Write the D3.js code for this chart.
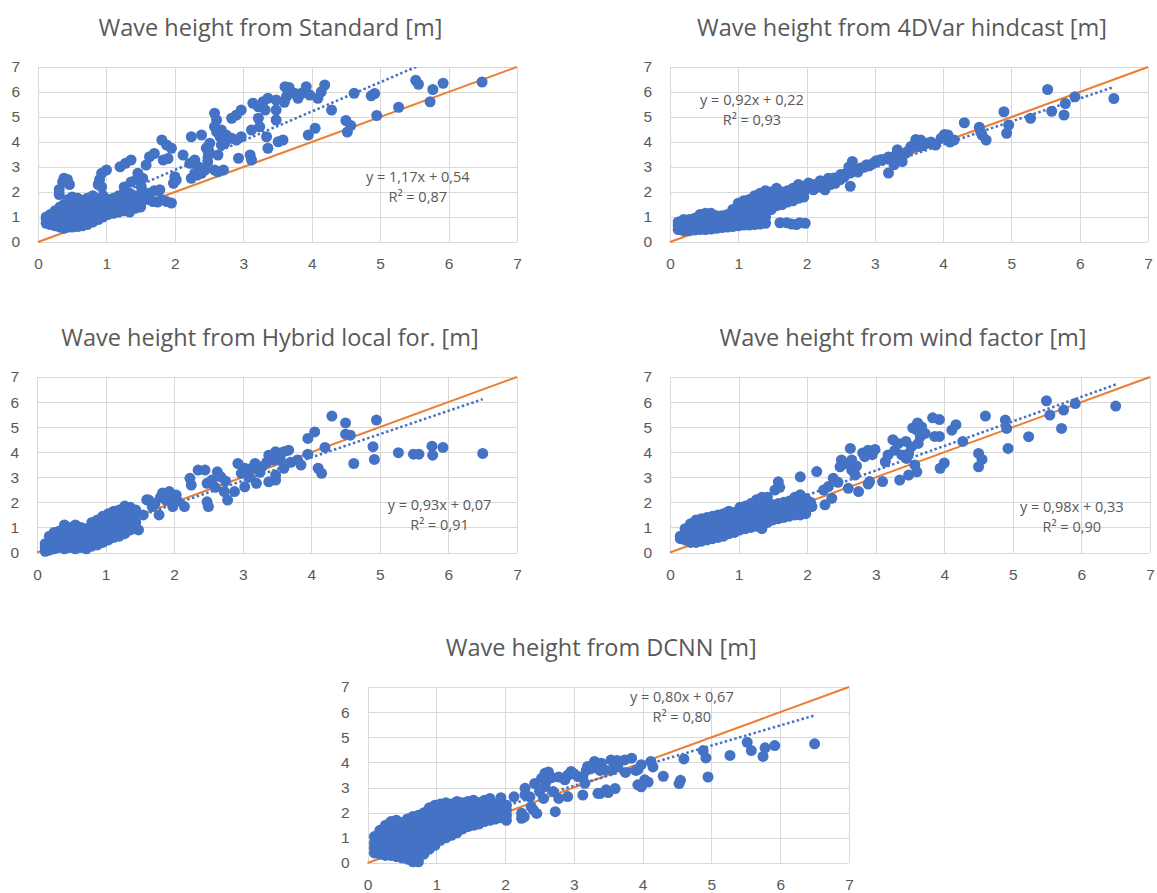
<!DOCTYPE html>
<html>
  <head>
    <meta charset="utf-8" />
    <title>Wave height comparison</title>
    <script src="https://cdnjs.cloudflare.com/ajax/libs/d3/7.8.5/d3.min.js"></script>
    <style>
      body { margin: 0; background: #ffffff; }
      svg { font-family: "Open Sans", sans-serif; }
      .axis line { stroke: #d9d9d9; shape-rendering: crispEdges; }
      .axis text { fill: #595959; font-size: 15.5px; }
      .title { fill: #595959; font-size: 23.5px; }
      .note { fill: #595959; font-size: 14.5px; }
    </style>
  </head>
  <body>
    <svg width="1157" height="893"></svg>

    <script>
      const titles = [
        "Wave height from Standard [m]",
        "Wave height from 4DVar hindcast [m]",
        "Wave height from Hybrid local for. [m]",
        "Wave height from wind factor [m]",
        "Wave height from DCNN [m]",
      ];
      const slopes = [1.17, 0.92, 0.93, 0.98, 0.8];
      const intercepts = [0.54, 0.22, 0.07, 0.33, 0.67];
      const r2 = [0.87, 0.93, 0.91, 0.9, 0.8];
      const ticks = [0, 1, 2, 3, 4, 5, 6, 7];

      const standardPts = [
        [0.12,0.75],[0.12,0.9],[0.12,1.0],[0.18,0.7],[0.18,0.85],[0.18,1.0],[0.18,1.1],
        [0.25,0.65],[0.25,0.8],[0.25,0.95],[0.25,1.1],[0.25,1.25],
        [0.32,0.6],[0.32,0.75],[0.32,0.9],[0.32,1.05],[0.32,1.2],[0.32,1.4],[0.31,1.9],[0.31,2.1],
        [0.38,0.55],[0.38,0.7],[0.38,0.85],[0.38,1.0],[0.38,1.15],[0.38,1.3],[0.38,1.5],[0.36,2.4],[0.38,2.55],
        [0.44,0.6],[0.44,0.75],[0.44,0.9],[0.44,1.05],[0.44,1.25],[0.44,1.45],[0.44,1.7],[0.43,2.5],[0.46,2.3],
        [0.5,0.6],[0.5,0.8],[0.5,1.0],[0.5,1.2],[0.5,1.4],[0.5,1.6],[0.5,1.8],
        [0.58,0.62],[0.58,0.8],[0.58,0.98],[0.58,1.15],[0.58,1.35],[0.58,1.55],[0.58,1.75],
        [0.65,0.65],[0.65,0.85],[0.65,1.05],[0.65,1.25],[0.65,1.45],[0.65,1.65],
        [0.72,0.7],[0.72,0.9],[0.72,1.1],[0.72,1.3],[0.72,1.5],[0.72,1.75],
        [0.8,0.8],[0.8,1.0],[0.8,1.2],[0.8,1.4],[0.8,1.6],[0.8,1.85],
        [0.88,0.9],[0.88,1.1],[0.88,1.3],[0.88,1.5],[0.88,1.7],[0.88,2.3],[0.9,2.5],
        [0.95,1.0],[0.95,1.2],[0.95,1.4],[0.95,1.6],[0.95,1.85],[0.93,2.75],[0.93,2.2],
        [1.02,1.1],[1.02,1.3],[1.02,1.5],[1.02,1.7],[1.0,2.88],
        [1.1,1.15],[1.1,1.35],[1.1,1.55],[1.1,1.75],
        [1.18,1.2],[1.18,1.4],[1.18,1.6],[1.18,1.85],[1.2,3.01],
        [1.26,1.25],[1.26,1.45],[1.26,1.65],[1.26,1.95],[1.26,2.2],[1.28,3.15],
        [1.34,1.2],[1.34,1.45],[1.34,1.7],[1.34,1.95],[1.36,2.4],[1.36,3.28],
        [1.42,1.35],[1.42,1.6],[1.42,1.85],[1.44,2.5],[1.46,2.75],
        [1.5,1.4],[1.5,1.65],[1.5,1.9],[1.51,2.2],[1.53,2.55],
        [1.58,1.7],[1.58,3.08],[1.62,1.95],[1.63,3.41],[1.68,1.62],[1.7,2.05],[1.7,3.54],
        [1.75,1.6],[1.78,2.09],[1.8,1.7],[1.81,4.08],[1.83,3.28],[1.88,3.88],[1.88,1.62],
        [1.9,3.34],[1.95,3.75],[1.95,1.56],[1.98,2.35],[2.0,2.61],[2.02,2.48],
        [2.12,3.48],[2.24,4.21],[2.39,4.28],[2.22,3.15],[2.29,3.28],[2.34,3.01],[2.29,2.75],[2.24,2.55],
        [2.39,2.75],[2.44,2.88],[2.46,3.75],[2.49,3.48],[2.48,3.21],[2.33,2.68],[2.38,2.88],[2.48,3.8],[2.5,3.61],
        [2.58,5.15],[2.61,4.88],[2.58,4.61],[2.61,4.41],[2.66,4.21],[2.68,3.88],[2.63,3.48],[2.51,3.95],
        [2.68,4.48],[2.75,4.28],[2.73,3.95],[2.58,2.88],[2.71,2.88],[2.63,2.81],
        [2.83,4.95],[2.9,5.08],[2.97,5.28],[2.83,4.15],[2.9,4.08],[2.97,4.21],[2.93,3.35],[3.1,3.48],[3.12,3.28],
        [3.14,5.55],[3.22,5.41],[3.29,5.61],[3.32,5.28],[3.36,5.75],[3.48,5.68],[3.48,5.28],
        [3.12,4.48],[3.22,4.95],[3.24,4.61],[3.34,4.21],[3.36,3.75],[3.48,4.88],[3.58,4.08],[3.51,4.01],
        [3.61,6.21],[3.66,6.01],[3.63,5.81],[3.75,5.95],[3.8,5.75],[3.85,5.95],[3.92,6.21],[3.97,5.88],
        [3.6,5.59],[3.67,6.18],[3.95,4.28],[4.05,4.55],[4.19,6.28],[4.14,6.01],[4.09,5.75],[4.29,5.28],
        [4.5,4.86],[4.52,4.4],[4.57,4.66],[4.62,5.95],[4.87,5.85],[4.92,5.94],[4.95,5.06],[5.27,5.39],
        [5.52,6.47],[5.56,6.31],[5.73,5.61],[5.77,6.1],[5.92,6.35],[6.49,6.4],
      ];

      const hindcastPts = [
        [0.12,0.5],[0.12,0.65],[0.12,0.8],[0.2,0.45],[0.2,0.6],[0.2,0.75],[0.2,0.9],
        [0.28,0.45],[0.28,0.6],[0.28,0.75],[0.28,0.9],[0.36,0.48],[0.36,0.62],[0.36,0.78],[0.36,0.95],
        [0.44,0.5],[0.44,0.65],[0.44,0.8],[0.44,1.0],[0.44,1.1],[0.52,0.5],[0.52,0.65],[0.52,0.82],[0.52,1.0],[0.52,1.15],
        [0.6,0.52],[0.6,0.68],[0.6,0.85],[0.6,1.02],[0.6,1.15],[0.68,0.55],[0.68,0.7],[0.68,0.88],[0.68,1.05],
        [0.76,0.58],[0.76,0.72],[0.76,0.9],[0.76,1.05],[0.84,0.6],[0.84,0.75],[0.84,0.92],[0.84,1.1],
        [0.92,0.62],[0.92,0.78],[0.92,0.95],[0.92,1.15],[0.92,1.3],
        [1.0,0.65],[1.0,0.82],[1.0,1.0],[1.0,1.2],[1.0,1.4],[1.0,1.55],
        [1.08,0.68],[1.08,0.85],[1.08,1.05],[1.08,1.25],[1.08,1.45],[1.08,1.65],
        [1.16,0.68],[1.16,0.88],[1.16,1.1],[1.16,1.3],[1.16,1.5],[1.16,1.7],
        [1.24,0.7],[1.24,0.9],[1.24,1.15],[1.24,1.4],[1.24,1.65],[1.24,1.85],
        [1.32,0.72],[1.32,0.95],[1.32,1.2],[1.32,1.45],[1.32,1.7],[1.32,1.95],
        [1.4,0.75],[1.4,1.0],[1.4,1.3],[1.4,1.55],[1.4,1.8],[1.4,2.05],
        [1.48,1.3],[1.48,1.55],[1.48,1.8],[1.48,2.0],[1.56,1.45],[1.56,1.7],[1.56,1.95],[1.56,2.15],
        [1.64,1.5],[1.64,1.75],[1.64,2.0],[1.72,1.6],[1.72,1.83],[1.72,2.05],[1.8,1.65],[1.8,1.9],[1.8,2.15],
        [1.88,1.75],[1.88,1.96],[1.88,2.3],[1.96,1.8],[1.96,2.0],[1.96,2.23],
        [1.61,0.77],[1.71,0.77],[1.78,0.72],[1.85,0.7],[1.9,0.77],[1.98,0.75],
        [2.03,2.36],[2.1,2.09],[2.1,2.3],[2.18,2.2],[2.2,2.45],[2.27,2.36],[2.27,2.09],[2.32,2.55],
        [2.35,2.3],[2.4,2.56],[2.42,2.35],[2.49,2.49],[2.5,2.7],[2.55,2.6],[2.58,2.75],[2.64,2.23],
        [2.64,2.76],[2.67,3.22],[2.62,3.0],[2.7,2.85],[2.75,2.8],[2.79,2.96],[2.85,3.0],[2.88,3.09],
        [2.92,3.05],[2.98,3.16],[3.02,3.25],[3.08,3.29],[3.12,3.3],[3.2,2.76],[3.2,3.4],[3.28,3.09],
        [3.3,3.45],[3.33,3.69],[3.38,3.42],[3.4,3.22],[3.45,3.55],[3.48,3.62],[3.52,3.75],[3.53,3.82],
        [3.58,3.9],[3.62,3.82],[3.6,4.1],[3.65,4.05],[3.67,4.08],[3.7,3.85],[3.75,3.95],[3.82,4.0],
        [3.89,3.88],[3.97,4.15],[4.02,4.3],[4.07,4.28],[4.1,4.0],[4.16,4.08],[4.31,4.77],[4.53,4.59],
        [4.57,4.28],[4.55,4.4],[4.63,4.08],[4.89,5.21],[4.93,4.35],[4.96,4.68],[5.28,4.95],[5.53,6.1],
        [5.59,5.23],[5.77,5.08],[5.79,5.54],[5.93,5.81],[6.5,5.74],
      ];

      const hybridPts = [
        [0.12,0.05],[0.12,0.2],[0.12,0.35],[0.18,0.1],[0.18,0.25],[0.18,0.45],[0.18,0.65],
        [0.25,0.15],[0.25,0.35],[0.25,0.55],[0.25,0.8],[0.32,0.2],[0.32,0.4],[0.32,0.6],[0.32,0.85],
        [0.4,0.15],[0.4,0.35],[0.4,0.55],[0.4,0.75],[0.4,0.95],[0.4,1.1],
        [0.48,0.2],[0.48,0.4],[0.48,0.6],[0.48,0.8],[0.48,1.0],
        [0.56,0.15],[0.56,0.35],[0.56,0.55],[0.56,0.75],[0.56,0.95],[0.56,1.1],
        [0.64,0.2],[0.64,0.4],[0.64,0.6],[0.64,0.8],[0.64,1.0],
        [0.72,0.15],[0.72,0.35],[0.72,0.55],[0.72,0.75],[0.72,0.95],
        [0.8,0.25],[0.8,0.45],[0.8,0.65],[0.8,0.85],[0.8,1.05],[0.8,1.2],
        [0.88,0.3],[0.88,0.5],[0.88,0.7],[0.88,0.9],[0.88,1.1],[0.88,1.3],
        [0.96,0.4],[0.96,0.6],[0.96,0.8],[0.96,1.0],[0.96,1.2],[0.96,1.45],
        [1.04,0.5],[1.04,0.7],[1.04,0.9],[1.04,1.1],[1.04,1.3],[1.04,1.55],
        [1.12,0.6],[1.12,0.8],[1.12,1.0],[1.12,1.2],[1.12,1.4],[1.12,1.65],
        [1.2,0.65],[1.2,0.85],[1.2,1.05],[1.2,1.25],[1.2,1.45],[1.2,1.7],
        [1.28,0.75],[1.28,0.95],[1.28,1.15],[1.28,1.35],[1.28,1.6],[1.28,1.85],
        [1.36,0.9],[1.36,1.1],[1.36,1.3],[1.36,1.55],[1.36,1.8],[1.44,0.95],[1.44,1.2],[1.44,1.45],[1.44,1.7],
        [1.48,0.9],[1.55,1.5],[1.6,2.1],[1.63,2.09],[1.68,1.83],[1.72,1.95],[1.78,1.5],[1.8,2.2],[1.83,2.37],
        [1.88,2.09],[1.93,2.43],[1.96,2.24],[1.98,1.83],[2.03,2.29],[2.05,2.05],[2.15,1.83],
        [2.23,2.96],[2.25,2.69],[2.35,3.29],[2.45,3.29],[2.48,2.76],[2.48,2.02],[2.5,1.83],[2.55,2.89],
        [2.6,2.6],[2.63,3.22],[2.68,3.02],[2.73,2.43],[2.75,2.85],[2.78,2.09],[2.88,2.43],[2.93,3.55],
        [2.98,3.16],[3.03,3.36],[3.03,2.62],[3.1,3.0],[3.13,3.36],[3.18,3.55],[3.2,2.76],[3.25,3.2],
        [3.28,3.42],[3.35,3.6],[3.38,3.88],[3.38,2.82],[3.45,3.69],[3.48,4.02],[3.48,3.09],[3.48,2.89],
        [3.55,3.69],[3.6,4.02],[3.6,3.36],[3.67,4.08],[3.7,3.6],[3.8,3.69],[3.85,3.49],[3.95,3.92],
        [3.95,4.55],[4.05,4.81],[4.1,3.36],[4.15,3.16],[4.2,4.19],[4.3,5.44],[4.5,5.17],[4.5,4.72],
        [4.57,4.68],[4.62,3.55],[4.9,4.22],[4.92,3.71],[4.95,5.28],[5.27,3.98],[5.49,3.92],[5.57,3.92],
        [5.76,4.24],[5.77,3.88],[5.92,4.19],[6.5,3.95],
      ];

      const windPts = [
        [0.15,0.55],[0.15,0.65],[0.22,0.5],[0.22,0.65],[0.22,0.8],[0.22,0.95],
        [0.3,0.4],[0.3,0.55],[0.3,0.7],[0.3,0.85],[0.3,1.0],[0.3,1.15],
        [0.38,0.4],[0.38,0.55],[0.38,0.7],[0.38,0.85],[0.38,1.0],[0.38,1.15],[0.38,1.3],
        [0.46,0.45],[0.46,0.6],[0.46,0.75],[0.46,0.9],[0.46,1.05],[0.46,1.2],[0.46,1.35],
        [0.54,0.5],[0.54,0.65],[0.54,0.8],[0.54,0.95],[0.54,1.1],[0.54,1.25],[0.54,1.4],
        [0.62,0.55],[0.62,0.7],[0.62,0.85],[0.62,1.0],[0.62,1.15],[0.62,1.3],[0.62,1.45],
        [0.7,0.6],[0.7,0.75],[0.7,0.9],[0.7,1.05],[0.7,1.2],[0.7,1.35],[0.7,1.5],
        [0.78,0.65],[0.78,0.8],[0.78,0.95],[0.78,1.1],[0.78,1.25],[0.78,1.4],[0.78,1.55],
        [0.86,0.75],[0.86,0.9],[0.86,1.05],[0.86,1.2],[0.86,1.35],[0.86,1.5],[0.86,1.65],
        [0.94,0.8],[0.94,0.95],[0.94,1.1],[0.94,1.25],[0.94,1.4],[0.94,1.6],
        [1.02,0.9],[1.02,1.05],[1.02,1.2],[1.02,1.35],[1.02,1.5],[1.02,1.65],[1.02,1.8],
        [1.1,0.95],[1.1,1.1],[1.1,1.25],[1.1,1.4],[1.1,1.6],[1.1,1.85],
        [1.18,1.0],[1.18,1.15],[1.18,1.3],[1.18,1.5],[1.18,1.7],[1.18,1.95],
        [1.26,1.05],[1.26,1.2],[1.26,1.4],[1.26,1.6],[1.26,1.8],[1.26,2.1],
        [1.34,0.95],[1.34,1.15],[1.34,1.35],[1.34,1.55],[1.34,1.75],[1.34,1.95],[1.34,2.2],
        [1.42,1.2],[1.42,1.4],[1.42,1.6],[1.42,1.8],[1.42,2.05],[1.42,2.2],
        [1.5,1.3],[1.5,1.5],[1.5,1.7],[1.5,1.9],[1.58,1.35],[1.58,1.55],[1.58,1.75],[1.58,1.95],
        [1.66,1.4],[1.66,1.6],[1.66,1.8],[1.66,2.0],[1.74,1.45],[1.74,1.65],[1.74,1.85],[1.74,2.05],
        [1.82,1.5],[1.82,1.7],[1.82,1.9],[1.82,2.2],[1.9,1.5],[1.9,1.7],[1.9,1.9],[1.9,2.1],[1.9,2.3],
        [1.98,1.55],[1.98,1.75],[1.98,1.95],[1.98,2.15],
        [1.53,2.49],[1.58,2.82],[1.6,2.6],[1.87,2.23],[1.9,3.02],[1.97,2.09],[2.07,1.83],[2.05,2.0],
        [2.14,3.23],[2.24,2.49],[2.26,1.9],[2.31,2.63],[2.36,2.16],[2.38,2.96],[2.45,2.8],[2.48,3.42],
        [2.5,3.69],[2.55,3.55],[2.6,2.56],[2.63,4.15],[2.65,3.69],[2.65,3.29],[2.7,3.09],[2.72,3.45],
        [2.75,2.43],[2.81,3.97],[2.84,3.82],[2.89,4.08],[2.89,2.73],[2.91,2.83],[2.99,4.11],[2.95,3.9],
        [3.1,2.83],[3.14,3.62],[3.18,3.89],[3.25,4.5],[3.28,4.08],[3.33,4.35],[3.35,2.89],[3.38,3.89],
        [3.44,4.43],[3.45,3.75],[3.48,3.95],[3.48,3.09],[3.52,4.22],[3.54,4.97],[3.57,3.49],[3.6,3.22],
        [3.6,4.88],[3.61,5.17],[3.62,4.35],[3.65,4.62],[3.67,5.01],[3.72,4.75],[3.83,5.37],[3.86,4.63],
        [3.93,4.63],[3.93,5.3],[3.94,3.36],[4.0,3.57],[4.11,4.88],[4.17,5.1],[4.27,4.43],
        [4.5,3.42],[4.5,3.95],[4.55,3.71],[4.6,5.44],[4.89,5.28],[4.91,4.95],[4.93,4.15],[5.23,4.62],
        [5.49,6.05],[5.54,5.48],[5.71,4.95],[5.74,5.68],[5.91,5.94],[6.5,5.84],
      ];

      const dcnnPts = [
        [0.1,0.4],[0.1,0.6],[0.1,0.8],[0.1,1.05],
        [0.18,0.35],[0.18,0.55],[0.18,0.75],[0.18,0.95],[0.18,1.15],[0.18,1.3],
        [0.26,0.3],[0.26,0.5],[0.26,0.7],[0.26,0.9],[0.26,1.1],[0.26,1.3],[0.26,1.5],
        [0.34,0.3],[0.34,0.5],[0.34,0.7],[0.34,0.9],[0.34,1.1],[0.34,1.3],[0.34,1.5],[0.34,1.65],
        [0.42,0.25],[0.42,0.45],[0.42,0.65],[0.42,0.85],[0.42,1.05],[0.42,1.25],[0.42,1.45],[0.42,1.7],
        [0.5,0.2],[0.5,0.4],[0.5,0.6],[0.5,0.8],[0.5,1.0],[0.5,1.2],[0.5,1.4],[0.5,1.6],
        [0.58,0.15],[0.58,0.35],[0.58,0.55],[0.58,0.75],[0.58,0.95],[0.58,1.15],[0.58,1.35],[0.58,1.55],[0.58,1.75],
        [0.66,0.05],[0.66,0.25],[0.66,0.45],[0.66,0.65],[0.66,0.85],[0.66,1.05],[0.66,1.25],[0.66,1.45],[0.66,1.65],[0.66,1.85],
        [0.74,0.05],[0.74,0.25],[0.74,0.45],[0.74,0.65],[0.74,0.85],[0.74,1.05],[0.74,1.25],[0.74,1.45],[0.74,1.65],[0.74,1.9],
        [0.82,0.35],[0.82,0.55],[0.82,0.75],[0.82,0.95],[0.82,1.15],[0.82,1.35],[0.82,1.55],[0.82,1.75],[0.82,2.0],
        [0.9,0.55],[0.9,0.75],[0.9,0.95],[0.9,1.15],[0.9,1.35],[0.9,1.55],[0.9,1.75],[0.9,1.95],[0.9,2.2],
        [0.98,0.7],[0.98,0.9],[0.98,1.1],[0.98,1.3],[0.98,1.5],[0.98,1.7],[0.98,1.9],[0.98,2.1],[0.98,2.3],
        [1.06,0.9],[1.06,1.1],[1.06,1.3],[1.06,1.5],[1.06,1.7],[1.06,1.9],[1.06,2.1],[1.06,2.35],
        [1.14,1.0],[1.14,1.2],[1.14,1.4],[1.14,1.6],[1.14,1.8],[1.14,2.0],[1.14,2.2],[1.14,2.4],
        [1.22,1.1],[1.22,1.3],[1.22,1.5],[1.22,1.9],[1.22,2.1],[1.22,2.35],
        [1.3,1.2],[1.3,1.4],[1.3,1.8],[1.3,2.0],[1.3,2.2],[1.3,2.45],
        [1.38,1.35],[1.38,1.55],[1.38,1.75],[1.38,1.95],[1.38,2.15],[1.38,2.4],
        [1.46,1.45],[1.46,1.65],[1.46,1.85],[1.46,2.05],[1.46,2.25],[1.46,2.45],
        [1.54,1.5],[1.54,1.7],[1.54,1.9],[1.54,2.1],[1.54,2.3],[1.54,2.5],
        [1.62,1.55],[1.62,1.75],[1.62,1.95],[1.62,2.15],[1.62,2.4],
        [1.7,1.65],[1.7,1.85],[1.7,2.05],[1.7,2.25],[1.7,2.5],
        [1.78,1.7],[1.78,1.9],[1.78,2.1],[1.78,2.3],[1.78,2.57],
        [1.86,1.75],[1.86,1.95],[1.86,2.15],[1.86,2.35],
        [1.94,1.8],[1.94,2.0],[1.94,2.2],[1.94,2.4],[1.94,2.6],
        [2.02,1.7],[2.02,1.9],[2.02,2.1],[2.02,2.3],
        [2.13,2.63],[2.24,1.98],[2.24,1.78],[2.28,1.84],[2.29,2.97],[2.29,2.71],[2.36,2.63],[2.38,2.24],
        [2.41,2.11],[2.43,3.16],[2.46,1.97],[2.5,2.85],[2.53,3.37],[2.56,2.57],[2.58,3.57],[2.58,3.03],
        [2.61,3.29],[2.63,3.62],[2.68,3.4],[2.7,2.84],[2.73,2.04],[2.78,3.42],[2.78,2.57],[2.87,3.31],
        [2.91,3.49],[2.91,2.64],[2.96,3.64],[3.0,3.55],[3.06,3.44],[3.13,3.42],[3.13,2.7],[3.16,3.17],
        [3.18,3.68],[3.2,3.84],[3.25,3.75],[3.3,4.04],[3.33,3.95],[3.35,2.77],[3.38,3.68],[3.38,2.76],
        [3.4,3.97],[3.45,3.7],[3.47,2.91],[3.5,2.8],[3.54,4.1],[3.55,3.7],[3.6,2.96],[3.64,3.84],
        [3.63,4.08],[3.74,4.1],[3.75,3.6],[3.84,4.17],[3.9,3.68],[3.93,3.71],[3.93,3.11],[3.98,3.91],
        [3.98,3.03],[4.03,3.31],[4.08,3.22],[4.12,4.04],[4.15,3.82],[4.3,3.45],[4.53,3.16],[4.55,3.29],
        [4.6,4.14],[4.88,4.47],[4.92,4.18],[4.95,3.42],[5.27,4.28],[5.52,4.8],[5.58,4.47],[5.75,4.24],
        [5.78,4.58],[5.92,4.67],[6.5,4.74],
      ];

      const series = [standardPts, hindcastPts, hybridPts, windPts, dcnnPts];

      // plot boxes (pixels) and where the trendline label sits (data units)
      const layout = [
        { left: 38, right: 517, top: 67, bottom: 242, note: [5.55, 2.4] },
        { left: 670, right: 1148, top: 67, bottom: 242, note: [1.2, 5.48] },
        { left: 37, right: 517, top: 377, bottom: 552.5, note: [5.87, 1.7] },
        { left: 670, right: 1150, top: 377, bottom: 552.5, note: [5.86, 1.62] },
        { left: 367.5, right: 849, top: 687, bottom: 863, note: [4.57, 6.41] },
      ];

      const blue = "#4472C4";
      const orange = "#ED7D31";
      const comma = (v) => d3.format(".2f")(v).replace(".", ",");

      const svg = d3.select("svg");

      layout.forEach((p, i) => {
        const pts = series[i];
        const x = d3.scaleLinear().domain([0, 7]).range([p.left, p.right]);
        const y = d3.scaleLinear().domain([0, 7]).range([p.bottom, p.top]);
        const g = svg.append("g");

        g.append("g")
          .attr("class", "axis")
          .attr("transform", `translate(0,${p.bottom})`)
          .call(
            d3.axisBottom(x).tickValues(ticks).tickFormat(d3.format("d"))
              .tickSize(-(p.bottom - p.top)).tickPadding(16)
          )
          .call((a) => a.select(".domain").remove());

        g.append("g")
          .attr("class", "axis")
          .attr("transform", `translate(${p.left},0)`)
          .call(
            d3.axisLeft(y).tickValues(ticks).tickFormat(d3.format("d"))
              .tickSize(-(p.right - p.left)).tickPadding(18)
          )
          .call((a) => a.select(".domain").remove());

        g.append("clipPath")
          .attr("id", "clip" + i)
          .append("rect")
          .attr("x", p.left)
          .attr("y", p.top)
          .attr("width", p.right - p.left)
          .attr("height", p.bottom - p.top);

        // 1:1 reference line
        g.append("line")
          .attr("x1", x(0)).attr("y1", y(0))
          .attr("x2", x(7)).attr("y2", y(7))
          .attr("stroke", orange)
          .attr("stroke-width", 2);

        // linear trendline over the observed range
        const ext = d3.extent(pts, (d) => d[0]);
        g.append("line")
          .attr("clip-path", `url(#clip${i})`)
          .attr("x1", x(ext[0])).attr("y1", y(slopes[i] * ext[0] + intercepts[i]))
          .attr("x2", x(ext[1])).attr("y2", y(slopes[i] * ext[1] + intercepts[i]))
          .attr("stroke", blue)
          .attr("stroke-width", 2.5)
          .attr("stroke-dasharray", "2.5,2.5");

        g.append("g")
          .selectAll("circle")
          .data(pts)
          .join("circle")
          .attr("cx", (d) => x(d[0]))
          .attr("cy", (d) => y(d[1]))
          .attr("r", 5.5)
          .attr("fill", blue);

        const note = g.append("text")
          .attr("class", "note")
          .attr("text-anchor", "middle")
          .attr("x", x(p.note[0]))
          .attr("y", y(p.note[1]));
        note.append("tspan").text(`y = ${comma(slopes[i])}x + ${comma(intercepts[i])}`);
        note.append("tspan")
          .attr("x", x(p.note[0]))
          .attr("dy", 20)
          .text(`R² = ${comma(r2[i])}`);

        g.append("text")
          .attr("class", "title")
          .attr("text-anchor", "middle")
          .attr("x", (p.left + p.right) / 2 - 7)
          .attr("y", p.top - 31)
          .text(titles[i]);
      });
    </script>
  </body>
</html>
